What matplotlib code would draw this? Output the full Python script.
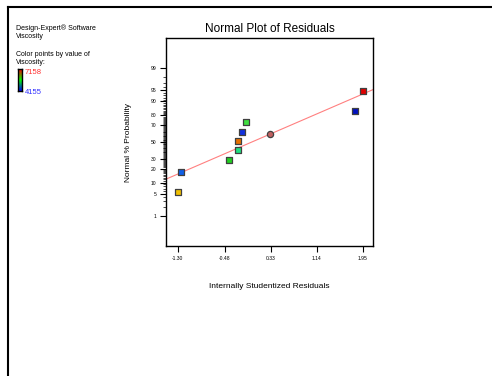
import matplotlib
matplotlib.use("Agg")
import matplotlib.pyplot as plt
from matplotlib.lines import Line2D
from matplotlib.colors import LinearSegmentedColormap
from statistics import NormalDist
import numpy as np

plt.rcParams['font.family'] = ['Liberation Sans', 'DejaVu Sans']

# residuals vs normal % probability
residuals = [-1.30, -1.25, -0.40, -0.25, -0.24, -0.18, -0.10, 0.32, 1.82, 1.95]
probability = [5.7, 17.0, 28.6, 39.7, 51.2, 62.0, 73.2, 60.3, 83.7, 94.6]
point_colors = ['#f0c000', '#1060e8', '#20d020', '#20e080', '#e87000',
                '#1030e0', '#40e040', '#c06060', '#0010c0', '#e00000']
markers = ['s', 's', 's', 's', 's', 's', 's', 'o', 's', 's']

x_ticks = [-1.30, -0.48, 0.33, 1.14, 1.95]
x_tick_labels = ['-1.30', '-0.48', '0.33', '1.14', '1.95']
y_major = [1, 5, 10, 20, 30, 50, 70, 80, 90, 95, 99]

fit_mean = 0.0
fit_sd = 1.285

nd = NormalDist()
def z(p):
    return nd.inv_cdf(p / 100.0)

fig = plt.figure(figsize=(4.92, 3.76), dpi=100)

# outer frame (top + left edge)
fig.add_artist(Line2D([8/492, 1], [1 - 7/376, 1 - 7/376], color='black', lw=1.5))
fig.add_artist(Line2D([8/492, 8/492], [0, 1 - 7/376], color='black', lw=1.5))

ax = fig.add_axes([166/492, 1 - 246/376, 207/492, 208/376])

xlim = (-1.51, 2.13)
ax.set_xlim(*xlim)
ax.set_ylim(-3.29, 3.29)

# fit line
xs = np.array(xlim)
ax.plot(xs, (xs - fit_mean) / fit_sd, color='#ff8080', lw=0.8, zorder=2)

for xv, pv, c, m in zip(residuals, probability, point_colors, markers):
    ax.scatter([xv], [z(pv)], marker=m, s=20, color=c, edgecolor='#404040',
               linewidth=0.9, zorder=3)

ax.set_xticks(x_ticks)
ax.set_xticklabels(x_tick_labels)
ax.set_yticks([z(p) for p in y_major])
ax.set_yticklabels([str(p) for p in y_major])
minor = [z(p) for p in range(2, 99) if p not in y_major]
ax.set_yticks(minor, minor=True)
ax.tick_params(axis='both', which='major', labelsize=3.6, length=4, width=0.8, pad=3)
ax.tick_params(axis='y', which='minor', length=2.5, width=0.5)
for s in ax.spines.values():
    s.set_linewidth(1.0)

ax.set_title('Normal Plot of Residuals', fontsize=8.5, pad=4)
ax.set_ylabel('Normal % Probability', fontsize=6, labelpad=13)
ax.set_xlabel('Internally Studentized Residuals', fontsize=6, labelpad=16)

# legend text block on the left
fig.text(16/492, 1 - 28/376, 'Design-Expert® Software', fontsize=5, va='center')
fig.text(16/492, 1 - 37/376, 'Viscosity', fontsize=5, va='center')
fig.text(16/492, 1 - 55/376, 'Color points by value of', fontsize=5, va='center')
fig.text(16/492, 1 - 63/376, 'Viscosity:', fontsize=5, va='center')

cax = fig.add_axes([18/492, 1 - 91/376, 4/492, 22/376])
cmap = LinearSegmentedColormap.from_list('rgb', ['#0000ff', '#00ff00', '#ff0000'])
cax.imshow(np.linspace(0, 1, 50)[:, None], aspect='auto', cmap=cmap, origin='lower')
cax.set_xticks([])
cax.set_yticks([])
for s in cax.spines.values():
    s.set_linewidth(1.0)

fig.text(25/492, 1 - 72/376, '7158', fontsize=5.5, color='#ff3030', va='center')
fig.text(25/492, 1 - 93/376, '4155', fontsize=5.5, color='#3030ff', va='center')

fig.savefig('out.png', dpi=100)
